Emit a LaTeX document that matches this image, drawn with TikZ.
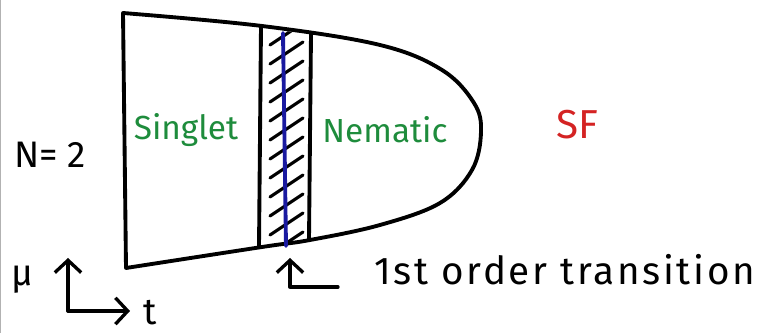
\documentclass[tikz,border=0pt]{standalone}
\usepackage{fontspec}
\setmainfont{Fira Sans}
\usepackage{xcolor}
\usetikzlibrary{arrows.meta,positioning}
\definecolor{phasegreen}{RGB}{30,140,60}
\definecolor{sfred}{RGB}{212,35,35}
\definecolor{lineblue}{RGB}{25,25,160}

\begin{document}
\begin{tikzpicture}[
    x=0.02cm, y=-0.02cm,
    outline/.style={draw=black, line width=2.2pt, line cap=round, line join=round},
    hatch/.style={draw=black, line width=1.8pt, line cap=round},
    phase/.style={font=\fontsize{19}{23}\selectfont, text=phasegreen},
    label/.style={font=\fontsize{21}{25}\selectfont, text=black},
    barb/.style={line width=1.9pt, line cap=round, line join=round, -{Straight Barb[length=7pt, width=15pt, line width=1.9pt]}}
]
\useasboundingbox (0,0) rectangle (765,333);
% frame edge on the left
\draw[gray!60, line width=0.8pt] (0.5,0) -- (0.5,333);

% Phase region boundary
\draw[outline] (123,13) -- plot[smooth, tension=0.6] coordinates {(123,13) (262,26) (380,45) (442,70) (474,103) (481,132) (472,170) (440,203) (380,225) (310,240) (262,247) (126,268)} -- cycle;

% Coexistence strip
\begin{scope}
  \clip (262,27) -- (311,35) -- (310,240) -- (261,247) -- cycle;
  \foreach \y in {45,64,...,256}
    \draw[hatch] (270,\y) -- (303,\y-22);
\end{scope}
\draw[outline] (261,26) -- (259,247);
\draw[outline] (311,34) -- (309,240);
\draw[lineblue, line width=2.2pt, line cap=round] (283,33) -- (286,246);

% Phase labels
\node[phase] (singlet) at (186,130) {Singlet};
\node[phase] (nematic) at (385,130) {Nematic};
\node[font=\fontsize{23}{27}\selectfont, text=sfred] (sf) at (577,125) {SF};
\node[label] (nlabel) at (50,155) {N= 2};

% Axes
\coordinate (origin) at (68,311);
\coordinate (muend) at (68,258);
\coordinate (tend) at (130,311);
\draw[barb] (origin) -- (muend);
\draw[barb] (origin) -- (tend);
\node[label] (mu) at (22,280) {μ};
\node[label] (t) at (150,313) {t};

% Transition pointer
\coordinate (hook) at (338,287);
\coordinate (corner) at (290,287);
\coordinate (tip) at (290,258);
\draw[barb] (hook) -- (corner) -- (tip);
\node[font=\fontsize{22}{26}\selectfont\addfontfeatures{LetterSpace=7}, anchor=west] (trans) at (368,270) {1st order transition};
\end{tikzpicture}
\end{document}
